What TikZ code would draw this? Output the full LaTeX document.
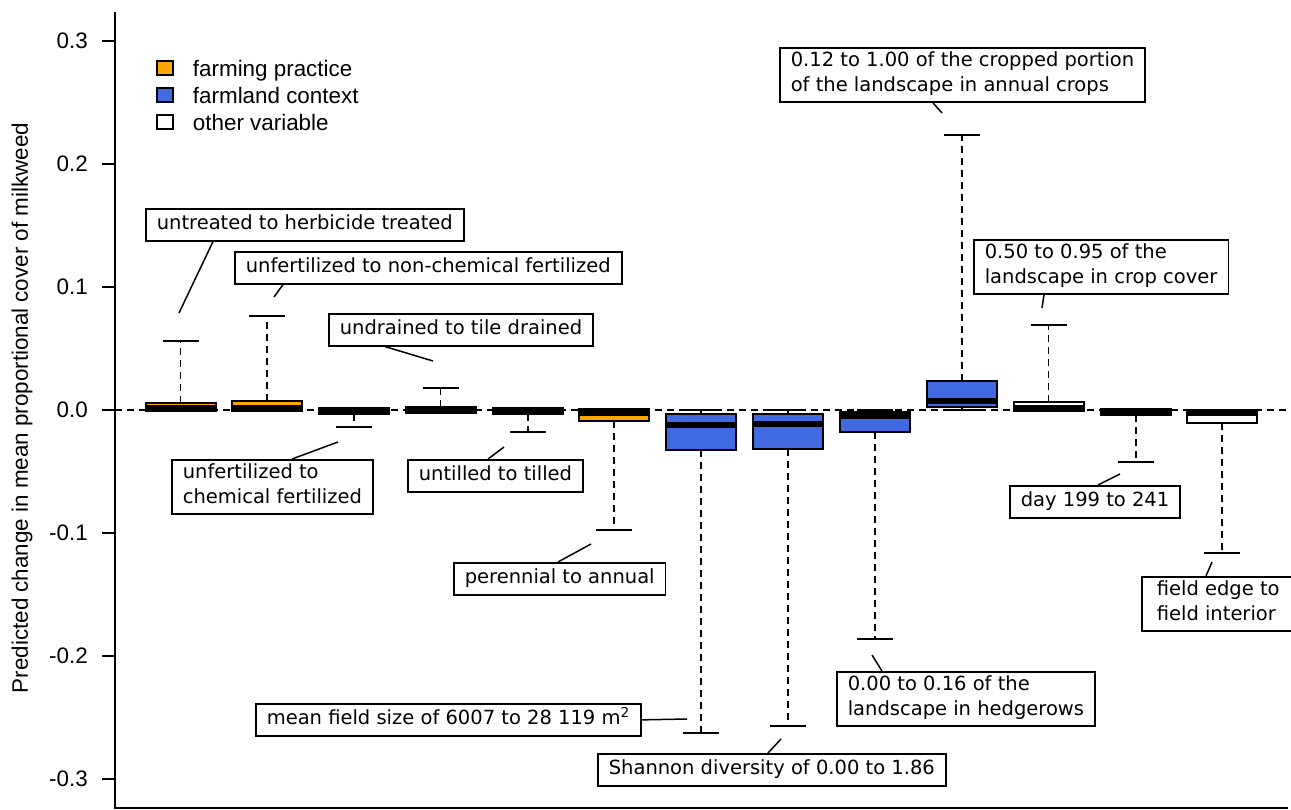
\documentclass[tikz,border=0pt]{standalone}
\usepackage{fontspec}
\setmainfont{DejaVu Sans}
\newfontfamily\arialfam{Liberation Sans}
\usetikzlibrary{positioning}

\definecolor{farmorange}{HTML}{FFA500}
\definecolor{farmblue}{HTML}{4169E1}

\tikzset{
  axisline/.style={line width=1.8pt},
  whisk/.style={line width=1.6pt, dash pattern=on 7pt off 5pt},
  capline/.style={line width=1.6pt},
  boxline/.style={line width=2pt},
  medline/.style={line width=5.5pt},
  leader/.style={line width=1.5pt},
  labbox/.style={draw, line width=1.6pt, fill=white, align=left, anchor=north west,
    inner xsep=11pt, inner ysep=3.5pt, font=\fontsize{19.5}{25}\selectfont,
    execute at begin node=\strut, execute at end node=\strut},
  legkey/.style={draw, line width=1.5pt, minimum width=16pt, minimum height=14pt, inner sep=0pt},
  arialtxt/.style={font=\arialfam\fontsize{22.4}{26}\selectfont},
}

% x, top end, box top, median, box bottom, bottom end, fill
\newcommand{\bplot}[7]{%
  \draw[whisk] (#1,#3) -- (#1,#2);
  \draw[whisk] (#1,#5) -- (#1,#6);
  \draw[capline] (#1-18,#2) -- (#1+18,#2);
  \draw[capline] (#1-18,#6) -- (#1+18,#6);
  \filldraw[boxline, fill=#7] (#1-35,#3) rectangle (#1+35,#5);
  \draw[medline] (#1-34,#4) -- (#1+34,#4);
}

\begin{document}
\begin{tikzpicture}[x=1pt, y=-1pt]
  \useasboundingbox (0,0) rectangle (1291,810);

  % axes
  \draw[axisline] (115,12) -- (115,808) -- (1288,808);
  \foreach \v/\lab [count=\i] in {3/0.3,2/0.2,1/0.1,0/0.0,-1/-0.1,-2/-0.2,-3/-0.3} {
    \draw[axisline] (102,410-123*\v) -- (115,410-123*\v);
    \node[arialtxt, anchor=east, inner sep=0pt] (tick\i) at (88,410-123*\v) {\lab};
  }
  \node[arialtxt, rotate=90] (ylab) at (22,408) {Predicted change in mean proportional cover of milkweed};

  % legend
  \node[legkey, fill=farmorange] (key1) at (165,68) {};
  \node[legkey, fill=farmblue] (key2) at (165,95) {};
  \node[legkey, fill=white] (key3) at (165,122) {};
  \foreach \k/\txt in {1/farming practice,2/farmland context,3/other variable}
    \node[arialtxt, right=19pt of key\k, inner sep=0pt, text height=18pt, text depth=0pt] (leg\k) {\txt};

  % boxes
  \bplot{180.5}{341}{403}{408}{411}{411}{farmorange}
  \bplot{267}{316}{401}{408}{411}{411}{farmorange}
  \bplot{354}{408}{408}{411}{414}{427}{farmorange}
  \bplot{440.5}{388}{407}{410}{413}{413}{farmorange}
  \bplot{528}{408}{408}{411}{414}{432}{farmorange}
  \bplot{614}{409}{409}{413}{421}{530}{farmorange}
  \bplot{701}{410}{414}{425}{450}{733}{farmblue}
  \bplot{788}{410}{414}{424}{449}{726}{farmblue}
  \bplot{875}{410}{412}{416}{432}{639}{farmblue}
  \bplot{962}{135}{381}{401}{407}{410}{farmblue}
  \bplot{1048.5}{325}{402}{408}{411}{411}{white}
  \bplot{1136}{409}{409}{412}{415}{462}{white}
  \bplot{1222}{410}{410}{413}{423}{553}{white}

  \draw[whisk] (115,410) -- (1291,410);

  % labels
  \node[labbox] (herb) at (145,208) {untreated to herbicide treated};
  \node[labbox] (nonchem) at (234,251) {unfertilized to non-chemical fertilized};
  \node[labbox] (tile) at (328,313) {undrained to tile drained};
  \node[labbox] (chem) at (171,459) {unfertilized to\\chemical fertilized};
  \node[labbox] (till) at (407,459) {untilled to tilled};
  \node[labbox] (annual) at (453,562) {perennial to annual};
  \node[labbox] (fsize) at (255,703) {mean field size of 6007 to 28 119 m\textsuperscript{2}};
  \node[labbox] (shannon) at (597,753) {Shannon diversity of 0.00 to 1.86};
  \node[labbox] (hedge) at (836,671) {0.00 to 0.16 of the\\landscape in hedgerows};
  \node[labbox] (crops) at (779,47) {0.12 to 1.00 of the cropped portion\\of the landscape in annual crops};
  \node[labbox] (cover) at (973,239) {0.50 to 0.95 of the\\landscape in crop cover};
  \node[labbox] (day) at (1009,485) {day 199 to 241};
  \node[labbox, inner xsep=15pt] (edge) at (1141,576) {field edge to\\field interior};

  % leader lines
  \coordinate (p1) at (179,313);
  \coordinate (p2) at (274,297);
  \coordinate (p3) at (433,361);
  \coordinate (p4) at (338,442);
  \coordinate (p5) at (504,447);
  \coordinate (p6) at (591,544);
  \coordinate (p7) at (687,719);
  \coordinate (p8) at (781,739);
  \coordinate (p9) at (872,655);
  \coordinate (p10) at (942,113);
  \coordinate (p11) at (1042,308);
  \coordinate (p12) at (1120,474);
  \coordinate (p13) at (1212,562);
  \draw[leader] ([xshift=68pt]herb.south west) -- (p1);
  \draw[leader] ([xshift=49pt]nonchem.south west) -- (p2);
  \draw[leader] ([xshift=57pt]tile.south west) -- (p3);
  \draw[leader] ([xshift=121pt]chem.north west) -- (p4);
  \draw[leader] ([xshift=81pt]till.north west) -- (p5);
  \draw[leader] ([xshift=105pt]annual.north west) -- (p6);
  \draw[leader] (fsize.east) -- (p7);
  \draw[leader] ([xshift=171pt]shannon.north west) -- (p8);
  \draw[leader] ([xshift=46pt]hedge.north west) -- (p9);
  \draw[leader] ([xshift=154pt]crops.south west) -- (p10);
  \draw[leader] ([xshift=71pt]cover.south west) -- (p11);
  \draw[leader] ([xshift=89pt]day.north west) -- (p12);
  \draw[leader] ([xshift=65pt]edge.north west) -- (p13);
\end{tikzpicture}
\end{document}
